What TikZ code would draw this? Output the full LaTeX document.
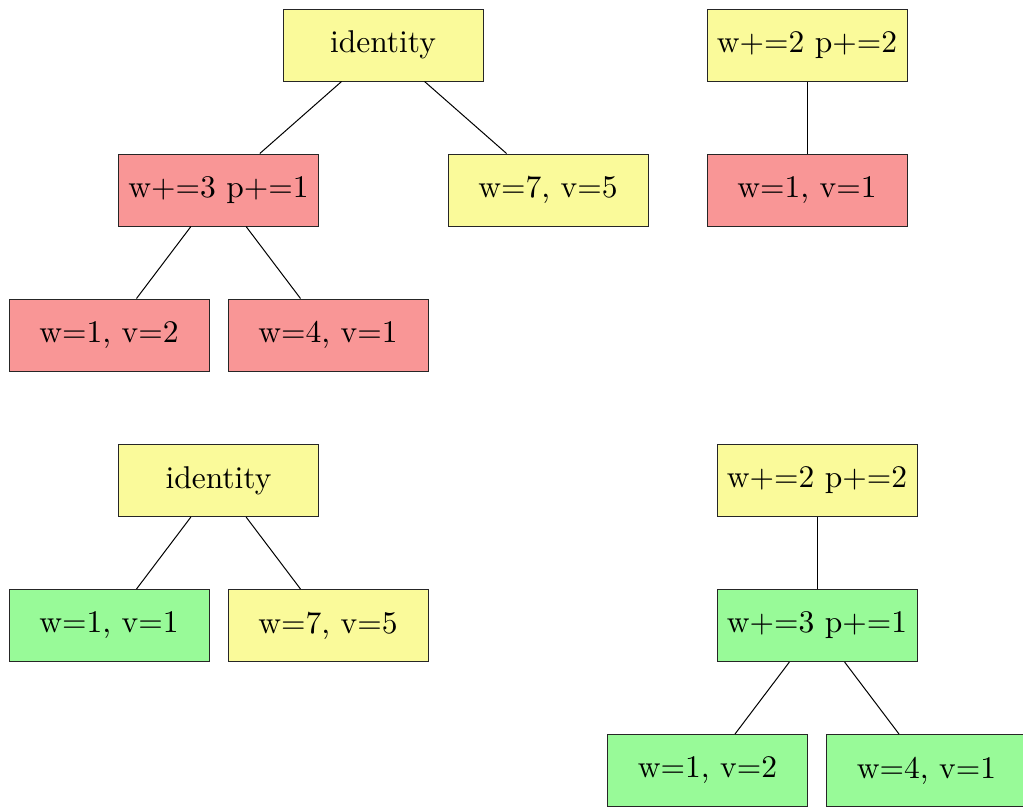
\documentclass[tikz,border=0pt]{standalone}
\usepackage{graphicx}
\definecolor{yfill}{RGB}{250,250,154}
\definecolor{rfill}{RGB}{249,150,150}
\definecolor{gfill}{RGB}{152,250,152}
\newcommand{\bigtxt}[1]{\scalebox{3.15}{#1}}
\begin{document}
\begin{tikzpicture}[x=1pt,y=-1pt,
  box/.style={draw=black!85, line width=1pt, minimum width=200pt, minimum height=72pt, inner sep=0pt},
  ybox/.style={box, fill=yfill},
  rbox/.style={box, fill=rfill},
  gbox/.style={box, fill=gfill},
  edge/.style={draw=black, line width=1pt}]
\useasboundingbox (0,0) rectangle (1023,807);
% top-left tree
\node[ybox] (a) at (383,45) {\bigtxt{identity}};
\node[rbox] (b) at (218.5,190) {\bigtxt{w+=3 p+=1}};
\node[ybox] (c) at (548,190) {\bigtxt{w=7, v=5}};
\node[rbox] (d) at (109,335) {\bigtxt{w=1, v=2}};
\node[rbox] (e) at (328,335) {\bigtxt{w=4, v=1}};
\draw[edge] (a) -- (b);
\draw[edge] (a) -- (c);
\draw[edge] (b) -- (d);
\draw[edge] (b) -- (e);
% top-right tree
\node[ybox] (f) at (807,45) {\bigtxt{w+=2 p+=2}};
\node[rbox] (g) at (807,190) {\bigtxt{w=1, v=1}};
\draw[edge] (f) -- (g);
% bottom-left tree
\node[ybox] (h) at (218.5,480.5) {\bigtxt{identity}};
\node[gbox] (i) at (109,625.5) {\bigtxt{w=1, v=1}};
\node[ybox] (j) at (328,625.5) {\bigtxt{w=7, v=5}};
\draw[edge] (h) -- (i);
\draw[edge] (h) -- (j);
% bottom-right tree
\node[ybox] (k) at (817,480.5) {\bigtxt{w+=2 p+=2}};
\node[gbox] (l) at (817,625.5) {\bigtxt{w+=3 p+=1}};
\node[gbox] (m) at (707.5,770.5) {\bigtxt{w=1, v=2}};
\node[gbox] (n) at (926.5,770.5) {\bigtxt{w=4, v=1}};
\draw[edge] (k) -- (l);
\draw[edge] (l) -- (m);
\draw[edge] (l) -- (n);
\end{tikzpicture}
\end{document}
